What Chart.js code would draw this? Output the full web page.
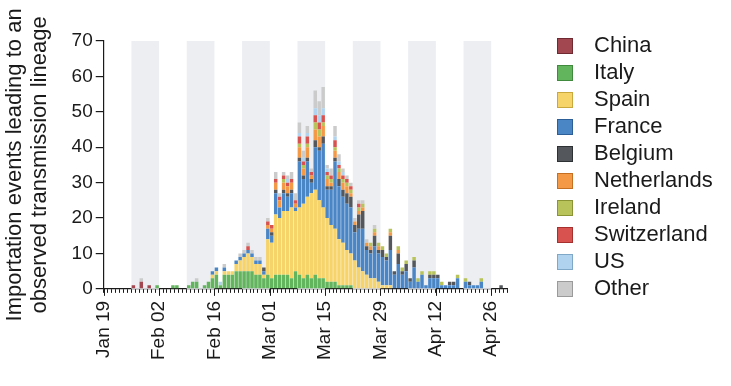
<!DOCTYPE html>
<html>
<head>
<meta charset="utf-8">
<script src="https://cdn.jsdelivr.net/npm/chart.js@4.4.1/dist/chart.umd.min.js"></script>
<style>
  html, body { margin: 0; padding: 0; background: #fff; }
  #wrap { width: 731px; height: 386px; }
</style>
</head>
<body>
<div id="wrap"><canvas id="chart" width="731" height="386"></canvas></div>
<script>
const FONT = "'Liberation Sans', Arial, Helvetica, sans-serif";
const INK = "#1a1a1a";

// one bar per day, day 0 = Jan 19 2020, rows of 14 days
const dayCount = 102;
const tickLabels = ["Jan 19", "Feb 02", "Feb 16", "Mar 01", "Mar 15", "Mar 29", "Apr 12", "Apr 26"];
const shadedWeekStarts = [7, 21, 35, 49, 63, 77, 91];

const countries = ["China", "Italy", "Spain", "France", "Belgium", "Netherlands", "Ireland", "Switzerland", "US", "Other"];

const china = [
  0,0,0,0,0,0,0,1,0,2,0,1,0,0,
  0,0,0,0,0,0,0,0,0,0,0,0,0,0,
  0,0,0,0,0,0,0,0,0,0,0,0,0,0,
  0,0,0,0,0,0,0,0,0,0,0,0,0,0,
  0,0,0,0,0,0,0,0,0,0,0,0,0,0,
  0,0,0,0,0,0,0,0,0,0,0,0,0,0,
  0,0,0,0,0,0,0,0,0,0,0,0,0,0,
  0,0,0,0
];
const italy = [
  0,0,0,0,0,0,0,0,0,0,0,0,0,1,
  0,0,0,1,1,0,0,1,2,2,0,1,2,3,
  4,1,4,4,4,5,5,5,5,5,4,4,3,4,
  3,4,4,4,4,3,5,4,3,4,3,4,3,3,
  2,2,2,1,1,1,1,0,0,0,0,0,0,0,
  0,0,0,0,0,0,0,0,0,0,0,0,0,0,
  0,0,0,0,0,0,0,0,0,0,0,0,0,0,
  0,0,0,0
];
const spain = [
  0,0,0,0,0,0,0,0,0,0,0,0,0,0,
  0,0,0,0,0,0,0,0,0,0,0,0,0,1,
  1,0,1,1,1,2,3,4,5,4,3,3,1,10,
  10,17,16,18,18,20,17,19,21,22,24,24,22,20,
  18,16,15,13,12,10,9,8,6,5,4,3,3,2,
  1,1,1,0,0,0,0,0,0,0,0,0,0,0,
  0,0,0,0,0,0,0,0,0,0,0,0,0,0,
  0,0,0,0
];
const france = [
  0,0,0,0,0,0,0,0,0,0,0,0,0,0,
  0,0,0,0,0,0,0,0,0,0,0,0,0,1,
  1,0,1,0,0,1,1,1,1,1,1,1,1,3,
  2,6,3,5,4,4,1,13,7,10,3,12,14,18,
  8,10,19,15,13,13,13,8,11,12,7,7,9,8,
  8,7,10,4,7,4,5,2,6,2,4,1,3,3,
  3,1,1,1,1,3,0,2,1,1,1,2,0,0,
  0,0,0,0
];
const belgium = [
  0,0,0,0,0,0,0,0,0,0,0,0,0,0,
  0,0,0,0,0,0,0,0,0,0,0,0,0,0,
  0,0,0,0,0,0,0,0,0,0,0,0,1,0,
  1,1,0,1,1,1,0,1,1,1,1,2,1,2,
  1,1,1,2,2,3,3,2,4,5,1,1,3,1,
  2,1,4,1,3,1,2,1,2,0,0,0,1,1,
  1,0,0,1,1,0,0,0,1,0,0,0,0,0,
  0,0,1,0
];
const netherlands = [
  0,0,0,0,0,0,0,0,0,0,0,0,0,0,
  0,0,0,0,0,0,0,0,0,0,0,0,0,0,
  0,0,0,0,0,0,0,0,0,0,0,0,0,1,
  1,2,2,2,2,2,1,3,2,3,1,3,3,3,
  2,1,2,2,2,2,1,1,1,1,1,1,1,1,
  0,0,1,0,1,0,0,0,0,0,0,0,0,0,
  0,0,0,0,0,0,0,0,0,0,0,0,0,0,
  0,0,0,0
];
const ireland = [
  0,0,0,0,0,0,0,0,0,0,0,0,0,0,
  0,0,0,0,0,0,0,0,0,0,0,0,0,0,
  0,0,0,0,0,0,0,0,0,0,0,0,0,0,
  0,0,0,1,0,0,0,1,1,1,0,2,2,1,
  1,1,1,1,1,1,1,0,1,1,0,1,1,1,
  1,1,1,0,1,1,1,0,1,1,1,0,1,1,
  0,1,0,0,0,1,0,1,0,0,0,1,0,0,
  0,0,0,0
];
const switzerland = [
  0,0,0,0,0,0,0,0,0,0,0,0,0,0,
  0,0,0,0,0,0,0,0,0,0,0,0,0,0,
  0,0,0,0,0,0,0,0,1,0,0,0,0,1,
  1,1,1,1,1,1,1,2,1,2,1,2,2,2,
  1,1,2,1,1,1,1,0,1,0,0,0,0,0,
  0,0,0,0,0,0,0,0,0,0,0,0,0,0,
  0,0,0,0,0,0,0,0,0,0,0,0,0,0,
  0,0,0,0
];
const us = [
  0,0,0,0,0,0,0,0,0,0,0,0,0,0,
  0,0,0,0,0,0,0,0,0,0,0,0,0,0,
  0,1,0,0,0,0,0,0,0,0,0,0,0,0,
  0,0,0,0,1,0,0,1,1,1,0,2,2,2,
  1,0,1,1,1,0,0,0,0,0,0,0,0,0,
  0,0,0,0,0,0,0,0,0,0,0,0,0,0,
  0,0,0,0,0,0,0,0,0,0,0,0,0,0,
  0,0,0,0
];
const other = [
  0,0,0,0,0,0,0,0,0,1,0,0,0,0,
  0,0,0,0,0,0,0,0,0,1,0,0,0,0,
  0,0,1,0,0,0,1,1,1,1,1,1,0,1,
  0,2,1,1,1,2,2,3,2,2,1,5,4,6,
  1,2,3,2,1,1,1,1,1,1,1,0,1,0,
  0,0,0,0,0,0,0,0,0,0,0,0,0,0,
  0,0,0,0,0,0,0,0,0,0,0,0,0,0,
  0,0,0,0
];

const seriesValues = [china, italy, spain, france, belgium, netherlands, ireland, switzerland, us, other];
const fillColors = ["#a2474f", "#62b45d", "#f6d46a", "#4a86c6", "#54585c", "#f49a46", "#b8c35a", "#d8524f", "#b0d4ef", "#cbcbcb"];
const edgeColors = ["#6e2a30", "#3f8a3c", "#c9a83e", "#2c5f98", "#2e3134", "#c46f22", "#8a9434", "#a5302e", "#7fa8c8", "#9a9a9a"];

// legend swatch: blank lead-in, then the coloured square
const SWATCH_W = 71;
const SWATCH_LEAD = 45;
function swatch(fill, edge) {
  const c = document.createElement("canvas");
  c.width = SWATCH_W;
  c.height = 16;
  const g = c.getContext("2d");
  g.fillStyle = fill;
  g.fillRect(SWATCH_LEAD + 0.5, 0.5, 15, 15);
  g.strokeStyle = edge;
  g.lineWidth = 1;
  g.strokeRect(SWATCH_LEAD + 0.5, 0.5, 15, 15);
  return c;
}
const swatches = fillColors.map((c, i) => swatch(c, edgeColors[i]));

const datasets = countries.map((name, i) => ({
  label: name,
  data: seriesValues[i].map((v, d) => ({ x: d + 0.5, y: v })),
  backgroundColor: fillColors[i],
  borderWidth: 0,
  barPercentage: 1,
  categoryPercentage: 0.88
}));

// alternate weeks shaded behind the bars
const weekShading = {
  id: "weekShading",
  beforeDatasetsDraw(chart) {
    const { ctx, chartArea, scales } = chart;
    ctx.save();
    ctx.fillStyle = "#eceef1";
    shadedWeekStarts.forEach((start) => {
      const x0 = scales.x.getPixelForValue(start);
      const x1 = scales.x.getPixelForValue(start + 7);
      ctx.fillRect(x0, chartArea.top, x1 - x0, chartArea.bottom - chartArea.top);
    });
    ctx.restore();
  }
};

// longer tick marks on the labelled days
const majorTicks = {
  id: "majorTicks",
  afterDraw(chart) {
    const { ctx, scales } = chart;
    const xs = scales.x;
    ctx.save();
    ctx.strokeStyle = INK;
    ctx.lineWidth = 1;
    tickLabels.forEach((_, i) => {
      const x = Math.round(xs.getPixelForValue(i * 14)) + 0.5;
      ctx.beginPath();
      ctx.moveTo(x, xs.top);
      ctx.lineTo(x, xs.top + 7);
      ctx.stroke();
    });
    ctx.restore();
  }
};

// the layout caps side boxes at a quarter of the width; the legend needs more
const LEGEND_W = 207;
const wideLegend = {
  id: "wideLegend",
  afterInit(chart) {
    const fit = chart.legend.fit;
    chart.legend.fit = function () {
      fit.call(this);
      this.width = LEGEND_W;
    };
  }
};

new Chart(document.getElementById("chart"), {
  type: "bar",
  data: { datasets },
  options: {
    responsive: false,
    animation: false,
    layout: { padding: { left: 0, right: 17, top: 0, bottom: 18 } },
    plugins: {
      title: { display: true, text: " ", font: { size: 10, lineHeight: 1 }, padding: { top: 31, bottom: 0 } },
      tooltip: { enabled: false },
      legend: {
        position: "right",
        align: "start",
        title: { display: true, text: " ", font: { size: 10, lineHeight: 1 }, padding: { top: 20, bottom: 0 } },
        labels: {
          usePointStyle: true,
          pointStyleWidth: SWATCH_W,
          boxHeight: 16,
          padding: 5,
          color: INK,
          font: { family: FONT, size: 22 },
          generateLabels: (chart) => chart.data.datasets.map((ds, i) => ({
            text: ds.label,
            fillStyle: ds.backgroundColor,
            strokeStyle: edgeColors[i],
            lineWidth: 0,
            pointStyle: swatches[i],
            fontColor: INK,
            hidden: !chart.isDatasetVisible(i),
            datasetIndex: i
          }))
        }
      }
    },
    scales: {
      x: {
        type: "linear",
        stacked: true,
        min: 0,
        max: dayCount,
        offset: false,
        grid: { display: true, offset: false, drawOnChartArea: false, drawTicks: true, tickLength: 4, color: INK, lineWidth: 1 },
        border: { display: true, color: INK, width: 1.2 },
        ticks: {
          stepSize: 1,
          autoSkip: false,
          maxTicksLimit: 200,
          minRotation: 90,
          maxRotation: 90,
          padding: 8,
          color: INK,
          font: { family: FONT, size: 19 },
          callback: (value) => (value % 14 === 0 && value / 14 < tickLabels.length ? tickLabels[value / 14] : "")
        }
      },
      y: {
        stacked: true,
        min: 0,
        max: 70,
        grid: { display: true, drawOnChartArea: false, drawTicks: true, tickLength: 8, color: INK, lineWidth: 1.2 },
        border: { display: true, color: INK, width: 1.2 },
        ticks: { stepSize: 10, padding: 3, color: INK, font: { family: FONT, size: 19 } },
        title: {
          display: true,
          text: ["Importation events leading to an", "observed transmission lineage"],
          color: INK,
          font: { family: FONT, size: 22, lineHeight: 1.15 },
          padding: { top: 2, bottom: 16 }
        }
      }
    }
  },
  plugins: [weekShading, majorTicks, wideLegend]
});
</script>
</body>
</html>
